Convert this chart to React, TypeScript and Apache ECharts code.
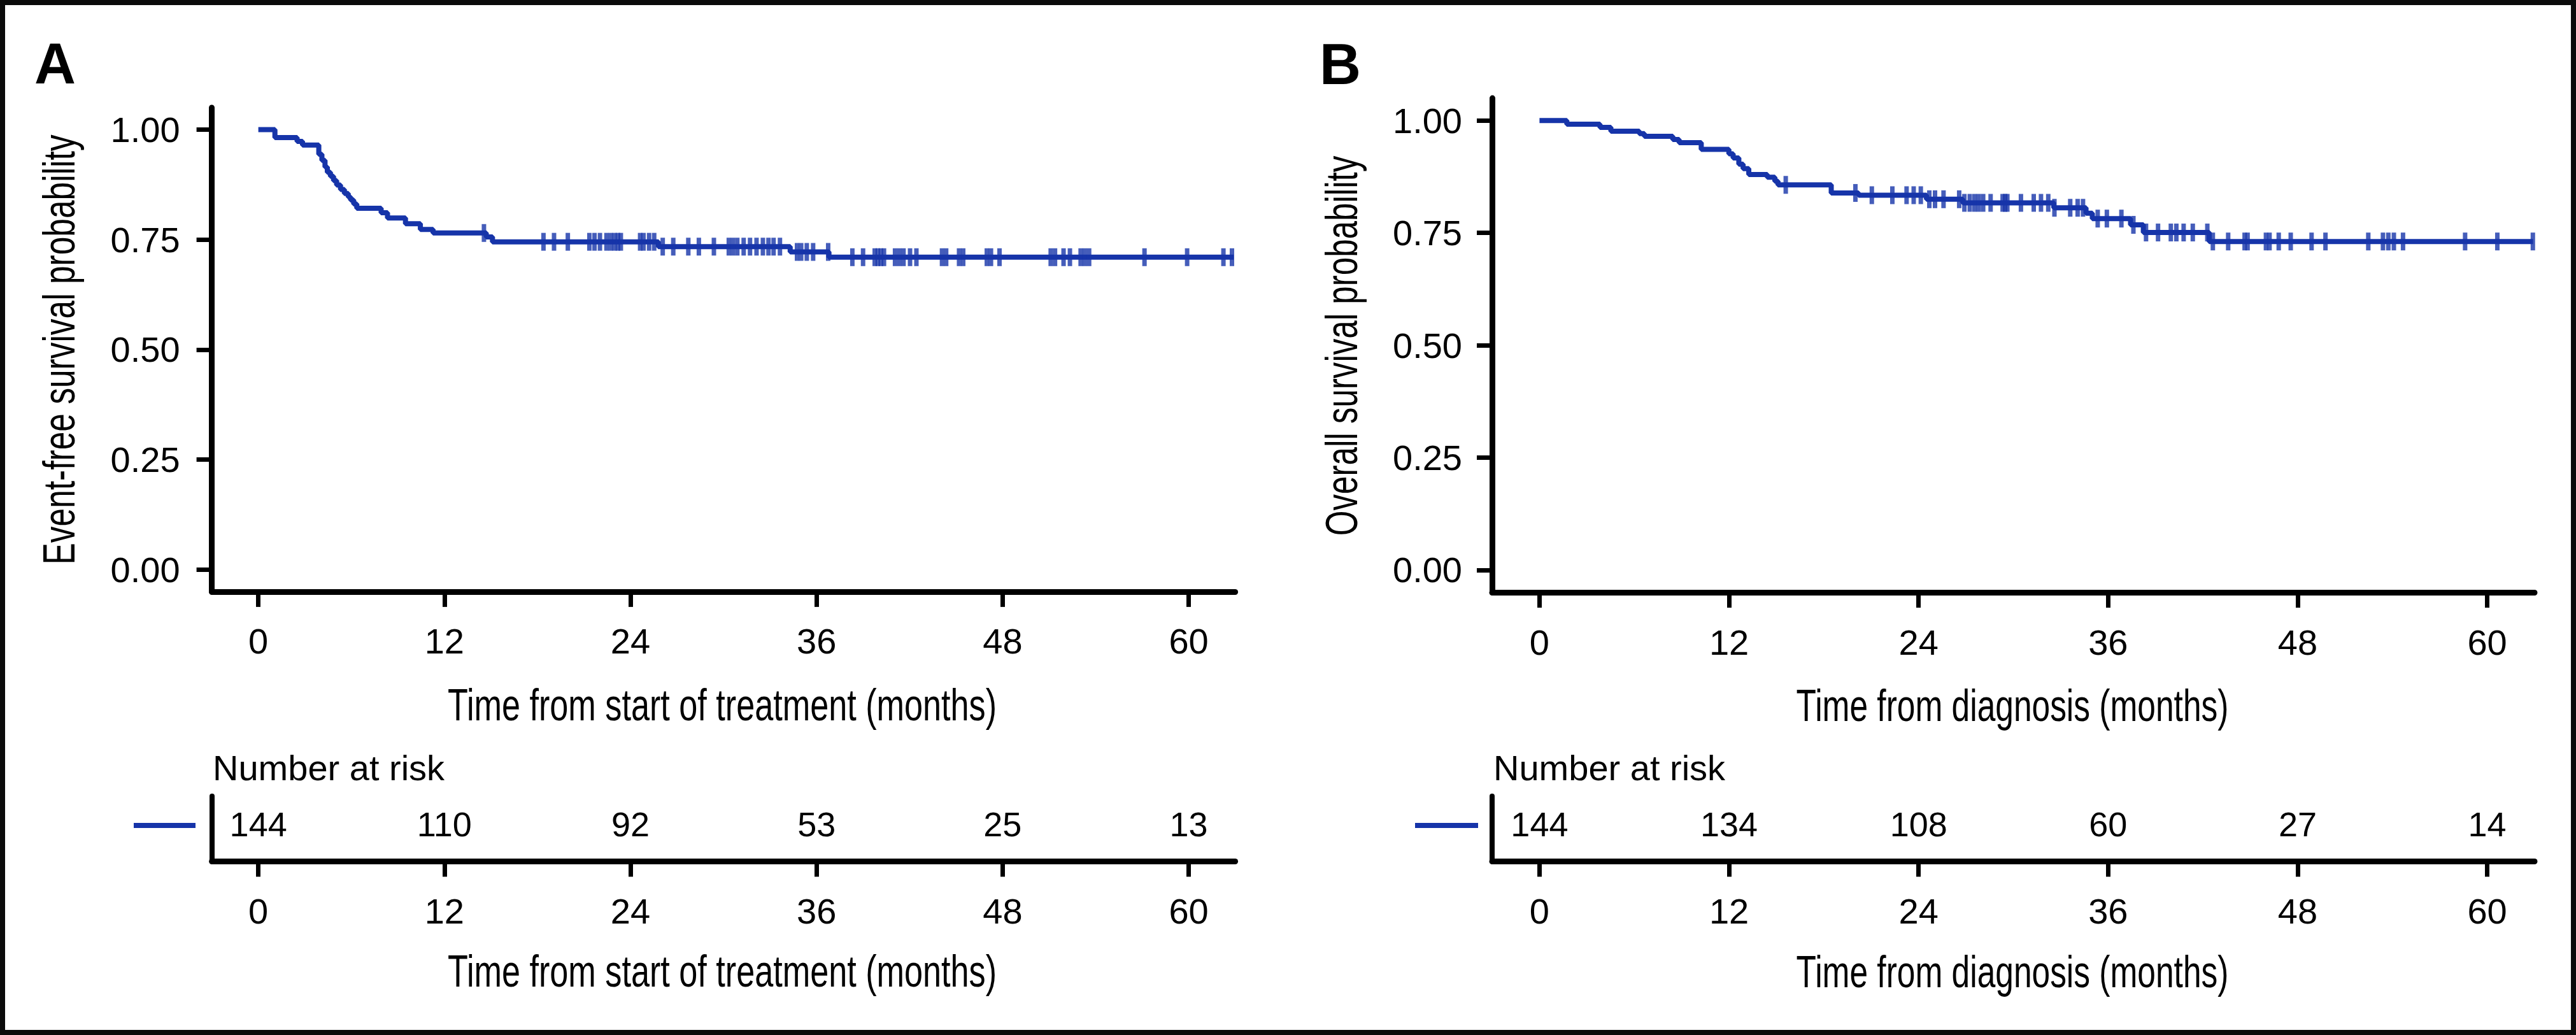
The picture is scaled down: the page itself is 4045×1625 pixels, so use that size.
import React, { useEffect, useRef } from "react";
import * as echarts from "echarts";

// ---------- data ----------
const xTicks = [0, 12, 24, 36, 48, 60];
const yTicks = [0, 0.25, 0.5, 0.75, 1];
const riskTimes = [0, 12, 24, 36, 48, 60];
const riskA = [144, 110, 92, 53, 25, 13];
const riskB = [144, 134, 108, 60, 27, 14];

// Panel A: event-free survival (time of step, survival after step)
const efsTimes = [0, 1.07, 2.5, 2.85, 3.9, 4.1, 4.3, 4.45, 4.65, 4.85, 5.05, 5.3, 5.55, 5.8, 5.95, 6.15, 6.35, 7.92, 8.33, 9.49, 10.45, 11.27, 14.7, 15.1, 25.8, 34.3, 36.8, 62.9];
const efsSurv = [1.0, 0.982, 0.973, 0.965, 0.944, 0.93, 0.915, 0.903, 0.894, 0.884, 0.874, 0.864, 0.855, 0.847, 0.84, 0.831, 0.821, 0.811, 0.799, 0.786, 0.773, 0.765, 0.756, 0.745, 0.734, 0.722, 0.71, 0.71];
const efsCensor = [14.55, 18.39, 19.07, 19.96, 21.35, 21.68, 22.03, 22.45, 22.72, 22.97, 23.19, 23.38, 24.62, 24.84, 25.2, 25.53,
  26.08, 26.76, 27.73, 28.41, 29.38, 30.34, 30.61, 30.89, 31.3, 31.71, 32.13, 32.54, 32.9, 33.23, 33.64,
  34.74, 35.01, 35.37, 35.78, 36.75,
  38.31, 39.0, 39.75, 39.95, 40.15, 40.35, 41.06, 41.34, 41.61, 42.03, 42.44, 44.09, 44.36, 45.19, 45.46, 46.98, 47.25, 47.8,
  51.1, 51.38, 51.93, 52.34, 53.03, 53.3, 53.58, 57.15, 59.9, 62.24, 62.79];

// Panel B: overall survival
const osTimes = [0, 1.73, 3.83, 4.52, 6.32, 6.64, 8.44, 8.84, 10.24, 11.99, 12.26, 12.62, 12.89, 13.25, 14.42, 14.9, 15.1, 18.47, 20.2, 24.5, 26.8, 32.56, 34.6, 35.0, 37.42, 38.23, 42.4, 62.9];
const osSurv = [1.0, 0.992, 0.985, 0.9765, 0.971, 0.965, 0.958, 0.951, 0.936, 0.926, 0.917, 0.903, 0.893, 0.88, 0.874, 0.865, 0.857, 0.839, 0.834, 0.825, 0.817, 0.806, 0.794, 0.782, 0.768, 0.751, 0.731, 0.731];
const osCensor = [15.59, 20.0, 21.04, 22.34, 23.24, 23.69, 24.14, 24.68, 25.04, 25.58, 26.57,
  26.9, 27.24, 27.54, 27.81, 28.09, 28.56, 29.32, 29.48, 29.62, 30.48, 31.29, 31.75, 32.21,
  32.6, 33.6, 34.07, 34.41, 35.34, 35.92, 36.84, 37.6,
  38.4, 39.16, 39.97, 40.32, 40.78, 41.36, 42.28,
  42.63, 43.6, 44.64, 44.83, 45.99, 46.22, 46.8, 47.56, 48.88, 49.76, 52.47, 53.4, 53.74, 54.09, 54.67, 58.6, 60.64, 62.89];

// ---------- styling ----------
const BLUE = "#1634a9";
const FONT = "'Liberation Sans', Arial, Helvetica, sans-serif";
const RISK_ROW = 0.571;
const COND = 0.735;

function stepValue(times: number[], surv: number[], t: number) {
  let s = surv[0];
  for (let i = 0; i < times.length; i++) if (times[i] <= t) s = surv[i];
  return s;
}

function xAxisCfg(gridIndex: number) {
  return {
    type: "value", gridIndex, min: -3, max: 63,
    axisLine: { show: true, onZero: false, lineStyle: { color: "#000", width: 9 } },
    axisTick: { show: true, customValues: xTicks, length: 24, lineStyle: { color: "#000", width: 7 } },
    axisLabel: { show: true, customValues: xTicks, margin: 50, fontSize: 56, color: "#000", fontFamily: FONT },
    splitLine: { show: false },
  };
}

function mainYAxis(gridIndex: number, margin: number) {
  return {
    type: "value", gridIndex, min: -0.05, max: 1.05,
    axisLine: { show: true, onZero: false, lineStyle: { color: "#000", width: 9 } },
    axisTick: { show: true, customValues: yTicks, length: 24, lineStyle: { color: "#000", width: 7 } },
    axisLabel: { show: true, customValues: yTicks, margin, fontSize: 56, color: "#000", fontFamily: FONT,
      formatter: (v: number) => v.toFixed(2) },
    splitLine: { show: false },
  };
}

function riskYAxis(gridIndex: number) {
  return {
    type: "value", gridIndex, min: 0, max: 1,
    axisLine: { show: true, onZero: false, lineStyle: { color: "#000", width: 8 } },
    axisTick: { show: false }, axisLabel: { show: false }, splitLine: { show: false },
  };
}

function condText(text: string, x: number, y: number, rotation = 0, scale = COND) {
  return {
    type: "text", x, y, rotation, scaleX: scale, scaleY: 1, silent: true,
    style: { text, fontSize: 71, fontFamily: FONT, fill: "#000", align: "center", verticalAlign: "middle" },
  };
}

function plainText(text: string, x: number, y: number, size: number, weight = "normal") {
  return {
    type: "text", x, y, silent: true,
    style: { text, fontSize: size, fontWeight: weight, fontFamily: FONT, fill: "#000", align: "left", verticalAlign: "middle" },
  };
}

function kmSeries(xi: number, times: number[], surv: number[], censor: number[]) {
  return [
    {
      type: "line", xAxisIndex: xi, yAxisIndex: xi, step: "end", symbol: "none", silent: true,
      data: times.map((t, i) => [t, surv[i]]),
      lineStyle: { color: BLUE, width: 8 }, z: 3,
    },
    {
      type: "scatter", xAxisIndex: xi, yAxisIndex: xi, symbol: "rect", symbolSize: [7, 28], silent: true,
      data: censor.map((t) => [t, stepValue(times, surv, t)]),
      itemStyle: { color: BLUE }, z: 4,
    },
  ];
}

function riskSeries(xi: number, values: number[]) {
  return {
    type: "scatter", xAxisIndex: xi, yAxisIndex: xi, symbolSize: 0, silent: true, z: 10,
    data: riskTimes.map((t, i) => [t, RISK_ROW, values[i]]),
    itemStyle: { color: "#000", opacity: 1 },
    label: { show: true, position: "inside", formatter: (p: any) => String(p.value[2]), opacity: 1,
      fontSize: 54, color: "#000", fontFamily: FONT, textBorderWidth: 0 },
  };
}

export default function App() {
  const ref = useRef<HTMLDivElement>(null);
  useEffect(() => {
    if (!ref.current) return;
    const chart = echarts.init(ref.current, null, { renderer: "svg" });
    const option: any = {
      animation: false,
      backgroundColor: "#fff",
      grid: [
        { left: 332.6, top: 168.9, width: 1607, height: 760 },
        { left: 332.6, top: 1250, width: 1607, height: 102.5 },
        { left: 2343, top: 154.1, width: 1637, height: 776 },
        { left: 2343, top: 1250, width: 1637, height: 102.5 },
      ],
      xAxis: [xAxisCfg(0), xAxisCfg(1), xAxisCfg(2), xAxisCfg(3)],
      yAxis: [mainYAxis(0, 50), riskYAxis(1), mainYAxis(2, 47), riskYAxis(3)],
      series: [
        ...kmSeries(0, efsTimes, efsSurv, efsCensor),
        riskSeries(1, riskA),
        ...kmSeries(2, osTimes, osSurv, osCensor),
        riskSeries(3, riskB),
      ],
      graphic: [
        { type: "rect", silent: true, shape: { x: 4, y: 4, width: 4037, height: 1617 },
          style: { fill: "none", stroke: "#0b0b0b", lineWidth: 8 } },
        plainText("A", 54, 100, 90, "bold"),
        plainText("B", 2072, 101, 90, "bold"),
        condText("Event-free survival probability", 92, 549, Math.PI / 2, 0.725),
        condText("Overall survival probability", 2106, 543, Math.PI / 2, 0.72),
        condText("Time from start of treatment (months)", 1134, 1107),
        condText("Time from start of treatment (months)", 1134, 1525),
        condText("Time from diagnosis (months)", 3160, 1107, 0, 0.725),
        condText("Time from diagnosis (months)", 3160, 1525, 0, 0.725),
        plainText("Number at risk", 334, 1205, 56),
        plainText("Number at risk", 2345, 1205, 56),
        { type: "line", silent: true, shape: { x1: 210, y1: 1296, x2: 307, y2: 1296 },
          style: { stroke: BLUE, lineWidth: 8 } },
        { type: "line", silent: true, shape: { x1: 2222, y1: 1296, x2: 2321, y2: 1296 },
          style: { stroke: BLUE, lineWidth: 8 } },
      ],
    };
    chart.setOption(option);
    return () => chart.dispose();
  }, []);
  return (
    <div
      ref={ref}
      style={{ position: "absolute", left: 0, top: 0, width: 4045, height: 1625, background: "#fff" }}
    />
  );
}
